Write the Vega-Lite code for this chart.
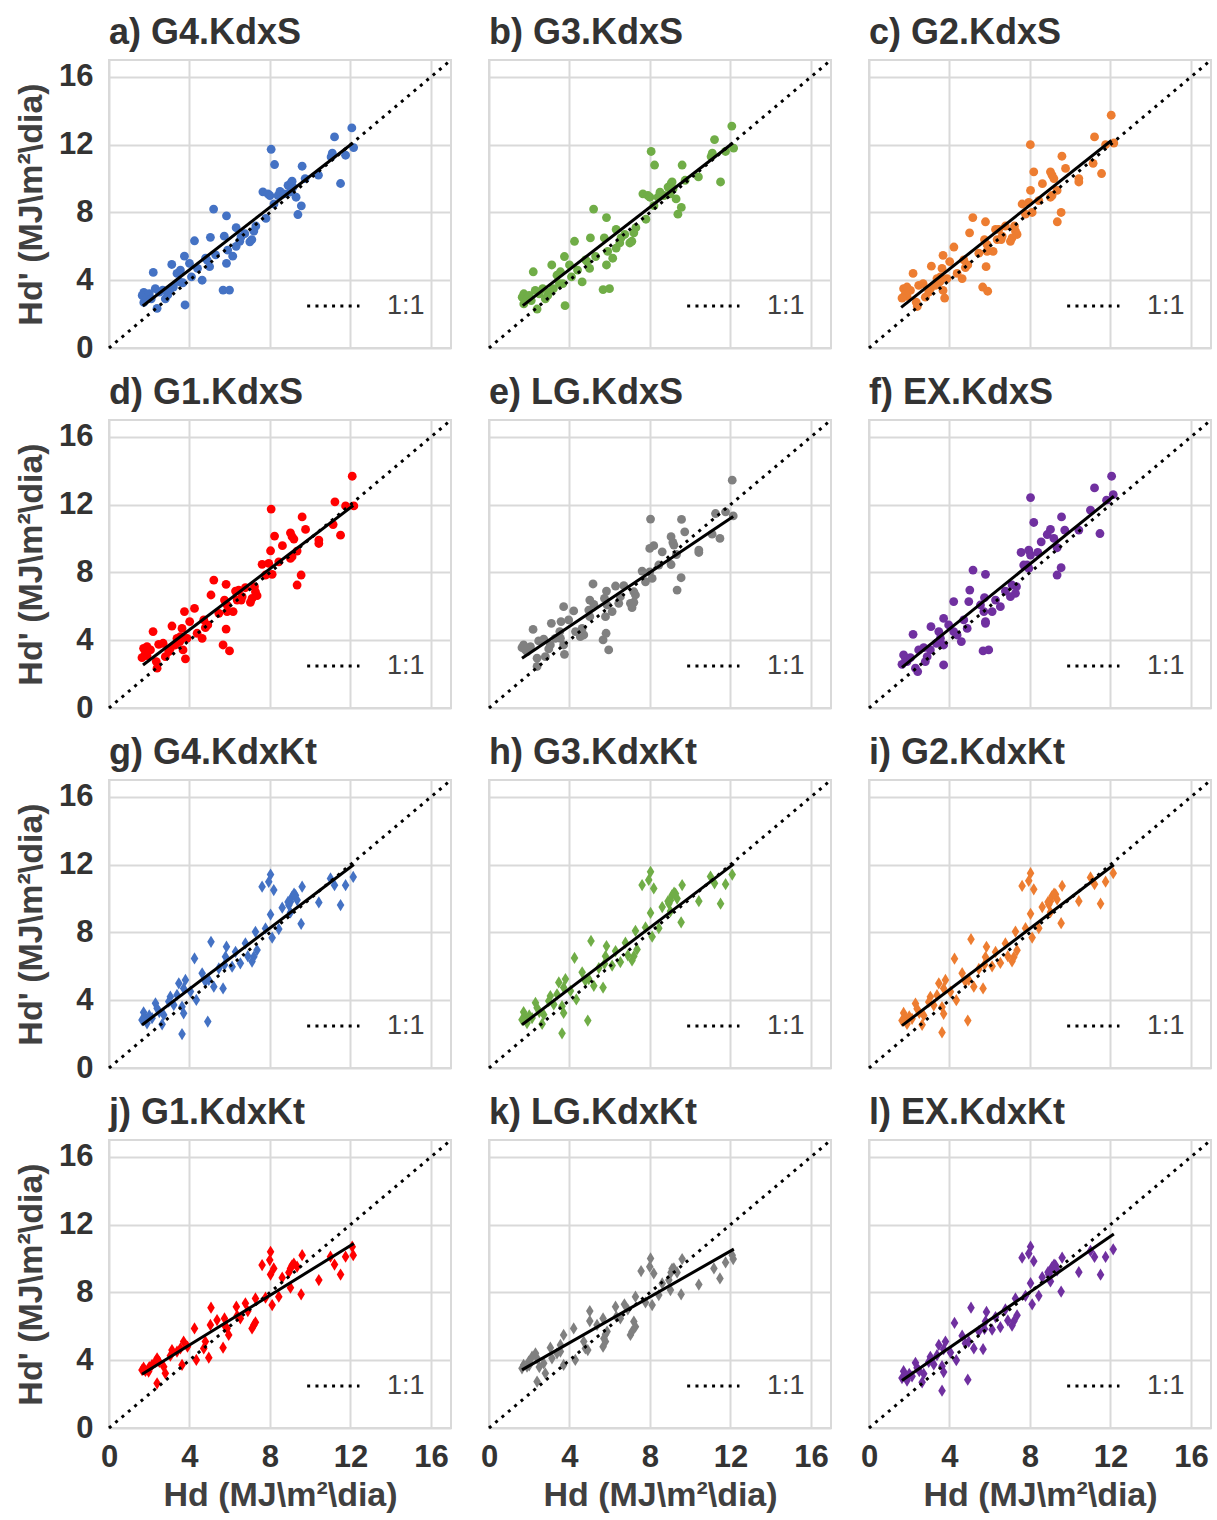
{
"$schema": "https://vega.github.io/schema/vega-lite/v6.json",
"background": "white",
"padding": {"left": 14, "top": 14, "right": 5, "bottom": 5},
"config": {"font": "Liberation Sans", "view": {"stroke": "#d9d9d9", "strokeWidth": 2}},
"data": {"values": [
{"k":"one","p":"a","x":0,"y":0},{"k":"one","p":"a","x":17,"y":17},
{"k":"one","p":"b","x":0,"y":0},{"k":"one","p":"b","x":17,"y":17},
{"k":"one","p":"c","x":0,"y":0},{"k":"one","p":"c","x":17,"y":17},
{"k":"one","p":"d","x":0,"y":0},{"k":"one","p":"d","x":17,"y":17},
{"k":"one","p":"e","x":0,"y":0},{"k":"one","p":"e","x":17,"y":17},
{"k":"one","p":"f","x":0,"y":0},{"k":"one","p":"f","x":17,"y":17},
{"k":"one","p":"g","x":0,"y":0},{"k":"one","p":"g","x":17,"y":17},
{"k":"one","p":"h","x":0,"y":0},{"k":"one","p":"h","x":17,"y":17},
{"k":"one","p":"i","x":0,"y":0},{"k":"one","p":"i","x":17,"y":17},
{"k":"one","p":"j","x":0,"y":0},{"k":"one","p":"j","x":17,"y":17},
{"k":"one","p":"k","x":0,"y":0},{"k":"one","p":"k","x":17,"y":17},
{"k":"one","p":"l","x":0,"y":0},{"k":"one","p":"l","x":17,"y":17},
{"k":"fit","p":"a","x":1.68,"y":2.48},{"k":"fit","p":"a","x":12.12,"y":12.1},
{"k":"fit","p":"b","x":1.68,"y":2.5},{"k":"fit","p":"b","x":12.12,"y":12.1},
{"k":"fit","p":"c","x":1.6,"y":2.4},{"k":"fit","p":"c","x":12.05,"y":12.25},
{"k":"fit","p":"d","x":1.69,"y":2.54},{"k":"fit","p":"d","x":12.14,"y":11.95},
{"k":"fit","p":"e","x":1.64,"y":2.94},{"k":"fit","p":"e","x":12.14,"y":11.3},
{"k":"fit","p":"f","x":1.64,"y":2.4},{"k":"fit","p":"f","x":12.17,"y":12.5},
{"k":"fit","p":"g","x":1.64,"y":2.54},{"k":"fit","p":"g","x":12.17,"y":12.01},
{"k":"fit","p":"h","x":1.64,"y":2.55},{"k":"fit","p":"h","x":12.17,"y":12.05},
{"k":"fit","p":"i","x":1.64,"y":2.5},{"k":"fit","p":"i","x":12.17,"y":12.0},
{"k":"fit","p":"j","x":1.64,"y":3.17},{"k":"fit","p":"j","x":12.17,"y":10.89},
{"k":"fit","p":"k","x":1.64,"y":3.43},{"k":"fit","p":"k","x":12.17,"y":10.56},
{"k":"fit","p":"l","x":1.64,"y":2.8},{"k":"fit","p":"l","x":12.17,"y":11.45},
{"k":"leg","p":"a","x":9.85,"y":2.48},{"k":"leg","p":"a","x":12.45,"y":2.48},
{"k":"leg","p":"b","x":9.85,"y":2.48},{"k":"leg","p":"b","x":12.45,"y":2.48},
{"k":"leg","p":"c","x":9.85,"y":2.48},{"k":"leg","p":"c","x":12.45,"y":2.48},
{"k":"leg","p":"d","x":9.85,"y":2.48},{"k":"leg","p":"d","x":12.45,"y":2.48},
{"k":"leg","p":"e","x":9.85,"y":2.48},{"k":"leg","p":"e","x":12.45,"y":2.48},
{"k":"leg","p":"f","x":9.85,"y":2.48},{"k":"leg","p":"f","x":12.45,"y":2.48},
{"k":"leg","p":"g","x":9.85,"y":2.48},{"k":"leg","p":"g","x":12.45,"y":2.48},
{"k":"leg","p":"h","x":9.85,"y":2.48},{"k":"leg","p":"h","x":12.45,"y":2.48},
{"k":"leg","p":"i","x":9.85,"y":2.48},{"k":"leg","p":"i","x":12.45,"y":2.48},
{"k":"leg","p":"j","x":9.85,"y":2.48},{"k":"leg","p":"j","x":12.45,"y":2.48},
{"k":"leg","p":"k","x":9.85,"y":2.48},{"k":"leg","p":"k","x":12.45,"y":2.48},
{"k":"leg","p":"l","x":9.85,"y":2.48},{"k":"leg","p":"l","x":12.45,"y":2.48},
{"k":"lbl","p":"a","x":14.75,"y":2.45},{"k":"lbl","p":"b","x":14.75,"y":2.45},{"k":"lbl","p":"c","x":14.75,"y":2.45},
{"k":"lbl","p":"d","x":14.75,"y":2.45},{"k":"lbl","p":"e","x":14.75,"y":2.45},{"k":"lbl","p":"f","x":14.75,"y":2.45},
{"k":"lbl","p":"g","x":14.75,"y":2.45},{"k":"lbl","p":"h","x":14.75,"y":2.45},{"k":"lbl","p":"i","x":14.75,"y":2.45},
{"k":"lbl","p":"j","x":14.75,"y":2.45},{"k":"lbl","p":"k","x":14.75,"y":2.45},{"k":"lbl","p":"l","x":14.75,"y":2.45},

{"p":"a","x":1.73,"y":3.28},{"p":"a","x":1.73,"y":2.69},{"p":"a","x":1.65,"y":3.1},{"p":"a","x":1.9,"y":3.0},{"p":"a","x":2.0,"y":3.2},{"p":"a","x":2.1,"y":2.9},{"p":"a","x":2.2,"y":4.46},{"p":"a","x":2.3,"y":3.5},{"p":"a","x":2.39,"y":2.34},{"p":"a","x":2.5,"y":3.3},{"p":"a","x":2.67,"y":3.42},{"p":"a","x":2.8,"y":2.9},{"p":"a","x":2.92,"y":3.13},{"p":"a","x":3.0,"y":3.4},{"p":"a","x":3.12,"y":4.93},{"p":"a","x":3.2,"y":3.6},{"p":"a","x":3.38,"y":4.4},{"p":"a","x":3.5,"y":3.9},{"p":"a","x":3.55,"y":4.6},{"p":"a","x":3.67,"y":3.85},{"p":"a","x":3.75,"y":5.42},{"p":"a","x":3.78,"y":2.54},{"p":"a","x":4.0,"y":5.0},{"p":"a","x":4.1,"y":4.2},{"p":"a","x":4.25,"y":6.33},{"p":"a","x":4.4,"y":4.7},{"p":"a","x":4.63,"y":4.0},{"p":"a","x":4.8,"y":5.3},{"p":"a","x":4.88,"y":5.19},{"p":"a","x":5.0,"y":4.8},{"p":"a","x":5.04,"y":6.53},{"p":"a","x":5.2,"y":8.2},{"p":"a","x":5.3,"y":5.5},{"p":"a","x":5.67,"y":3.42},{"p":"a","x":5.99,"y":3.42},{"p":"a","x":5.73,"y":6.6},{"p":"a","x":5.84,"y":7.8},{"p":"a","x":5.84,"y":5.0},{"p":"a","x":5.9,"y":5.78},{"p":"a","x":6.15,"y":5.42},{"p":"a","x":6.32,"y":7.1},{"p":"a","x":6.32,"y":6.0},{"p":"a","x":6.5,"y":6.3},{"p":"a","x":6.56,"y":6.55},{"p":"a","x":6.75,"y":6.75},{"p":"a","x":7.0,"y":6.27},{"p":"a","x":7.1,"y":6.4},{"p":"a","x":7.2,"y":6.9},{"p":"a","x":7.3,"y":7.2},{"p":"a","x":7.65,"y":9.22},{"p":"a","x":7.8,"y":7.65},{"p":"a","x":7.9,"y":9.1},{"p":"a","x":8.0,"y":9.0},{"p":"a","x":8.06,"y":11.73},{"p":"a","x":8.23,"y":10.83},{"p":"a","x":8.2,"y":8.5},{"p":"a","x":8.4,"y":9.0},{"p":"a","x":8.5,"y":9.25},{"p":"a","x":8.7,"y":9.1},{"p":"a","x":8.9,"y":9.6},{"p":"a","x":9.0,"y":9.2},{"p":"a","x":9.05,"y":9.75},{"p":"a","x":9.1,"y":9.85},{"p":"a","x":9.15,"y":9.5},{"p":"a","x":9.3,"y":8.9},{"p":"a","x":9.39,"y":7.88},{"p":"a","x":9.56,"y":8.39},{"p":"a","x":9.6,"y":10.73},{"p":"a","x":9.75,"y":10.0},{"p":"a","x":10.41,"y":10.2},{"p":"a","x":11.04,"y":11.28},{"p":"a","x":11.1,"y":11.5},{"p":"a","x":11.21,"y":12.46},{"p":"a","x":11.51,"y":9.71},{"p":"a","x":11.76,"y":11.38},{"p":"a","x":12.07,"y":12.99},{"p":"a","x":12.16,"y":11.83},

{"p":"b","x":1.73,"y":3.2},{"p":"b","x":1.73,"y":2.6},{"p":"b","x":1.65,"y":3.0},{"p":"b","x":1.9,"y":2.9},{"p":"b","x":2.0,"y":3.1},{"p":"b","x":2.1,"y":2.8},{"p":"b","x":2.2,"y":4.5},{"p":"b","x":2.3,"y":3.4},{"p":"b","x":2.39,"y":2.3},{"p":"b","x":2.5,"y":3.2},{"p":"b","x":2.67,"y":3.5},{"p":"b","x":2.8,"y":2.9},{"p":"b","x":2.92,"y":3.1},{"p":"b","x":3.0,"y":3.3},{"p":"b","x":3.12,"y":4.9},{"p":"b","x":3.2,"y":3.5},{"p":"b","x":3.38,"y":4.3},{"p":"b","x":3.5,"y":3.8},{"p":"b","x":3.55,"y":4.5},{"p":"b","x":3.67,"y":3.8},{"p":"b","x":3.75,"y":5.4},{"p":"b","x":3.78,"y":2.5},{"p":"b","x":4.0,"y":4.9},{"p":"b","x":4.1,"y":4.2},{"p":"b","x":4.25,"y":6.3},{"p":"b","x":4.4,"y":4.6},{"p":"b","x":4.63,"y":3.9},{"p":"b","x":4.8,"y":5.2},{"p":"b","x":4.88,"y":5.1},{"p":"b","x":5.0,"y":4.7},{"p":"b","x":5.04,"y":6.5},{"p":"b","x":5.2,"y":8.2},{"p":"b","x":5.3,"y":5.4},{"p":"b","x":5.67,"y":3.45},{"p":"b","x":5.99,"y":3.5},{"p":"b","x":5.73,"y":6.5},{"p":"b","x":5.84,"y":7.7},{"p":"b","x":5.84,"y":4.9},{"p":"b","x":5.9,"y":5.7},{"p":"b","x":6.15,"y":5.3},{"p":"b","x":6.32,"y":7.0},{"p":"b","x":6.32,"y":5.9},{"p":"b","x":6.5,"y":6.2},{"p":"b","x":6.56,"y":6.5},{"p":"b","x":6.75,"y":6.7},{"p":"b","x":7.0,"y":6.2},{"p":"b","x":7.1,"y":6.3},{"p":"b","x":7.2,"y":6.8},{"p":"b","x":7.3,"y":7.1},{"p":"b","x":7.65,"y":9.1},{"p":"b","x":7.8,"y":7.6},{"p":"b","x":7.9,"y":9.0},{"p":"b","x":8.0,"y":8.9},{"p":"b","x":8.06,"y":11.6},{"p":"b","x":8.23,"y":10.8},{"p":"b","x":8.2,"y":8.4},{"p":"b","x":8.4,"y":8.9},{"p":"b","x":8.5,"y":9.2},{"p":"b","x":8.7,"y":9.0},{"p":"b","x":8.9,"y":9.5},{"p":"b","x":9.0,"y":9.1},{"p":"b","x":9.05,"y":9.7},{"p":"b","x":9.1,"y":9.8},{"p":"b","x":9.15,"y":9.4},{"p":"b","x":9.3,"y":8.8},{"p":"b","x":9.39,"y":7.9},{"p":"b","x":9.56,"y":8.3},{"p":"b","x":9.6,"y":10.8},{"p":"b","x":9.75,"y":9.9},{"p":"b","x":10.41,"y":10.1},{"p":"b","x":11.04,"y":11.3},{"p":"b","x":11.1,"y":11.5},{"p":"b","x":11.21,"y":12.3},{"p":"b","x":11.51,"y":9.8},{"p":"b","x":11.76,"y":11.6},{"p":"b","x":12.07,"y":13.1},{"p":"b","x":12.16,"y":11.8},

{"p":"c","x":12.04,"y":13.74},{"p":"c","x":11.21,"y":12.46},{"p":"c","x":11.76,"y":12.0},{"p":"c","x":12.17,"y":12.1},{"p":"c","x":8.02,"y":12.0},{"p":"c","x":9.59,"y":11.32},{"p":"c","x":9.77,"y":10.6},{"p":"c","x":11.14,"y":10.9},{"p":"c","x":11.56,"y":10.3},{"p":"c","x":10.43,"y":10.0},{"p":"c","x":10.43,"y":9.8},{"p":"c","x":8.19,"y":10.4},{"p":"c","x":9.02,"y":10.4},{"p":"c","x":9.1,"y":10.2},{"p":"c","x":9.19,"y":10.0},{"p":"c","x":8.62,"y":9.7},{"p":"c","x":8.03,"y":9.3},{"p":"c","x":9.35,"y":9.3},{"p":"c","x":9.1,"y":9.0},{"p":"c","x":9.02,"y":8.9},{"p":"c","x":7.61,"y":8.5},{"p":"c","x":7.94,"y":8.6},{"p":"c","x":8.44,"y":8.7},{"p":"c","x":7.78,"y":7.9},{"p":"c","x":8.11,"y":8.0},{"p":"c","x":9.55,"y":8.0},{"p":"c","x":9.36,"y":7.45},{"p":"c","x":5.16,"y":7.7},{"p":"c","x":5.79,"y":7.45},{"p":"c","x":5.0,"y":6.8},{"p":"c","x":6.29,"y":7.0},{"p":"c","x":6.78,"y":7.2},{"p":"c","x":7.23,"y":7.2},{"p":"c","x":7.28,"y":6.9},{"p":"c","x":7.36,"y":6.7},{"p":"c","x":7.11,"y":6.5},{"p":"c","x":7.03,"y":6.3},{"p":"c","x":6.57,"y":6.4},{"p":"c","x":6.37,"y":6.4},{"p":"c","x":5.74,"y":6.4},{"p":"c","x":5.87,"y":6.1},{"p":"c","x":6.17,"y":5.7},{"p":"c","x":5.87,"y":5.7},{"p":"c","x":4.22,"y":5.96},{"p":"c","x":3.68,"y":5.47},{"p":"c","x":4.01,"y":5.1},{"p":"c","x":4.91,"y":4.9},{"p":"c","x":4.79,"y":4.75},{"p":"c","x":4.63,"y":4.1},{"p":"c","x":4.38,"y":4.4},{"p":"c","x":3.63,"y":4.7},{"p":"c","x":3.1,"y":4.83},{"p":"c","x":3.55,"y":4.2},{"p":"c","x":3.52,"y":3.9},{"p":"c","x":5.82,"y":4.8},{"p":"c","x":5.65,"y":3.6},{"p":"c","x":5.9,"y":3.35},{"p":"c","x":3.68,"y":3.4},{"p":"c","x":3.76,"y":2.95},{"p":"c","x":2.19,"y":4.4},{"p":"c","x":2.47,"y":3.7},{"p":"c","x":2.69,"y":3.8},{"p":"c","x":3.05,"y":3.5},{"p":"c","x":2.97,"y":3.3},{"p":"c","x":2.8,"y":3.0},{"p":"c","x":2.35,"y":2.7},{"p":"c","x":2.4,"y":2.45},{"p":"c","x":1.72,"y":3.5},{"p":"c","x":1.81,"y":3.2},{"p":"c","x":1.89,"y":3.05},{"p":"c","x":1.64,"y":2.95},{"p":"c","x":2.06,"y":3.4},{"p":"c","x":3.3,"y":3.7},{"p":"c","x":3.38,"y":4.1},{"p":"c","x":5.46,"y":5.6},{"p":"c","x":6.45,"y":7.0},{"p":"c","x":6.62,"y":6.6},{"p":"c","x":4.71,"y":5.2},{"p":"c","x":3.88,"y":4.1},{"p":"c","x":1.89,"y":3.6},

{"p":"d","x":12.09,"y":13.68},{"p":"d","x":11.23,"y":12.17},{"p":"d","x":11.76,"y":11.93},{"p":"d","x":12.17,"y":11.93},{"p":"d","x":8.06,"y":11.74},{"p":"d","x":9.6,"y":11.28},{"p":"d","x":9.77,"y":10.54},{"p":"d","x":11.14,"y":10.83},{"p":"d","x":11.51,"y":10.2},{"p":"d","x":10.43,"y":9.91},{"p":"d","x":10.43,"y":9.71},{"p":"d","x":8.23,"y":10.15},{"p":"d","x":9.02,"y":10.34},{"p":"d","x":9.1,"y":10.11},{"p":"d","x":9.19,"y":9.97},{"p":"d","x":8.62,"y":9.58},{"p":"d","x":8.03,"y":9.28},{"p":"d","x":9.35,"y":9.26},{"p":"d","x":9.1,"y":8.93},{"p":"d","x":9.02,"y":8.83},{"p":"d","x":7.61,"y":8.48},{"p":"d","x":7.94,"y":8.54},{"p":"d","x":8.44,"y":8.63},{"p":"d","x":7.78,"y":7.85},{"p":"d","x":8.11,"y":7.89},{"p":"d","x":9.55,"y":7.85},{"p":"d","x":9.35,"y":7.26},{"p":"d","x":5.21,"y":7.55},{"p":"d","x":5.82,"y":7.3},{"p":"d","x":5.07,"y":6.67},{"p":"d","x":6.29,"y":6.9},{"p":"d","x":6.78,"y":7.1},{"p":"d","x":7.23,"y":7.16},{"p":"d","x":7.28,"y":6.86},{"p":"d","x":7.36,"y":6.63},{"p":"d","x":7.11,"y":6.47},{"p":"d","x":7.03,"y":6.24},{"p":"d","x":6.57,"y":6.37},{"p":"d","x":6.37,"y":6.37},{"p":"d","x":5.74,"y":6.37},{"p":"d","x":5.87,"y":6.08},{"p":"d","x":6.17,"y":5.69},{"p":"d","x":5.87,"y":5.69},{"p":"d","x":4.25,"y":5.88},{"p":"d","x":3.75,"y":5.69},{"p":"d","x":4.01,"y":5.1},{"p":"d","x":4.91,"y":4.9},{"p":"d","x":4.79,"y":4.74},{"p":"d","x":4.63,"y":4.11},{"p":"d","x":4.38,"y":4.41},{"p":"d","x":3.63,"y":4.7},{"p":"d","x":3.13,"y":4.84},{"p":"d","x":3.55,"y":4.21},{"p":"d","x":3.52,"y":3.92},{"p":"d","x":5.82,"y":4.66},{"p":"d","x":5.67,"y":3.72},{"p":"d","x":5.99,"y":3.37},{"p":"d","x":3.68,"y":3.43},{"p":"d","x":3.8,"y":2.9},{"p":"d","x":2.19,"y":4.51},{"p":"d","x":2.47,"y":3.76},{"p":"d","x":2.69,"y":3.82},{"p":"d","x":3.05,"y":3.52},{"p":"d","x":2.97,"y":3.33},{"p":"d","x":2.8,"y":3.03},{"p":"d","x":2.35,"y":2.74},{"p":"d","x":2.39,"y":2.35},{"p":"d","x":1.72,"y":3.52},{"p":"d","x":1.81,"y":3.23},{"p":"d","x":1.89,"y":3.09},{"p":"d","x":1.64,"y":2.97},{"p":"d","x":2.06,"y":3.43},{"p":"d","x":3.3,"y":3.72},{"p":"d","x":3.38,"y":4.11},{"p":"d","x":5.46,"y":5.59},{"p":"d","x":6.45,"y":6.96},{"p":"d","x":6.62,"y":6.57},{"p":"d","x":4.71,"y":5.2},{"p":"d","x":3.88,"y":4.11},{"p":"d","x":1.89,"y":3.62},

{"p":"e","x":12.09,"y":13.45},{"p":"e","x":11.26,"y":11.48},{"p":"e","x":11.76,"y":11.58},{"p":"e","x":12.14,"y":11.34},{"p":"e","x":8.03,"y":11.15},{"p":"e","x":9.57,"y":11.13},{"p":"e","x":9.73,"y":10.4},{"p":"e","x":11.09,"y":10.26},{"p":"e","x":11.48,"y":10.01},{"p":"e","x":10.43,"y":9.32},{"p":"e","x":10.43,"y":9.18},{"p":"e","x":8.19,"y":9.58},{"p":"e","x":9.05,"y":10.11},{"p":"e","x":9.14,"y":9.77},{"p":"e","x":9.19,"y":9.62},{"p":"e","x":8.61,"y":9.22},{"p":"e","x":7.99,"y":9.42},{"p":"e","x":9.32,"y":9.06},{"p":"e","x":9.05,"y":8.47},{"p":"e","x":7.61,"y":8.08},{"p":"e","x":7.99,"y":8.04},{"p":"e","x":8.44,"y":8.44},{"p":"e","x":7.78,"y":7.45},{"p":"e","x":8.11,"y":7.65},{"p":"e","x":9.55,"y":7.69},{"p":"e","x":9.35,"y":6.96},{"p":"e","x":5.17,"y":7.32},{"p":"e","x":5.84,"y":6.9},{"p":"e","x":5.01,"y":6.37},{"p":"e","x":6.29,"y":7.2},{"p":"e","x":6.7,"y":7.22},{"p":"e","x":7.2,"y":6.86},{"p":"e","x":7.28,"y":6.67},{"p":"e","x":7.03,"y":6.18},{"p":"e","x":7.11,"y":5.92},{"p":"e","x":6.45,"y":6.18},{"p":"e","x":5.74,"y":6.47},{"p":"e","x":5.87,"y":6.08},{"p":"e","x":6.12,"y":5.69},{"p":"e","x":5.79,"y":5.39},{"p":"e","x":4.21,"y":5.73},{"p":"e","x":3.71,"y":5.98},{"p":"e","x":3.96,"y":5.2},{"p":"e","x":4.96,"y":5.78},{"p":"e","x":4.63,"y":4.7},{"p":"e","x":4.71,"y":4.31},{"p":"e","x":3.1,"y":5.0},{"p":"e","x":3.58,"y":5.1},{"p":"e","x":3.52,"y":4.51},{"p":"e","x":3.55,"y":4.11},{"p":"e","x":5.82,"y":4.41},{"p":"e","x":5.67,"y":4.02},{"p":"e","x":5.95,"y":3.43},{"p":"e","x":3.75,"y":3.17},{"p":"e","x":2.19,"y":4.64},{"p":"e","x":2.47,"y":3.96},{"p":"e","x":2.72,"y":4.07},{"p":"e","x":3.05,"y":3.72},{"p":"e","x":2.97,"y":3.49},{"p":"e","x":2.8,"y":3.03},{"p":"e","x":2.39,"y":2.94},{"p":"e","x":2.39,"y":2.45},{"p":"e","x":1.72,"y":3.72},{"p":"e","x":1.81,"y":3.43},{"p":"e","x":1.89,"y":3.33},{"p":"e","x":1.64,"y":3.56},{"p":"e","x":2.06,"y":3.62},{"p":"e","x":3.3,"y":4.11},{"p":"e","x":4.3,"y":4.51},{"p":"e","x":4.54,"y":4.21},{"p":"e","x":5.01,"y":5.39},{"p":"e","x":3.71,"y":3.72},{"p":"e","x":7.2,"y":6.24},{"p":"e","x":6.53,"y":6.57},{"p":"e","x":5.21,"y":6.12},

{"p":"f","x":12.06,"y":13.68},{"p":"f","x":11.21,"y":12.99},{"p":"f","x":11.81,"y":12.27},{"p":"f","x":12.14,"y":12.6},{"p":"f","x":8.03,"y":12.42},{"p":"f","x":8.19,"y":10.95},{"p":"f","x":9.57,"y":11.28},{"p":"f","x":9.73,"y":10.5},{"p":"f","x":11.01,"y":11.68},{"p":"f","x":11.48,"y":10.3},{"p":"f","x":10.43,"y":10.5},{"p":"f","x":9.02,"y":10.54},{"p":"f","x":8.86,"y":10.24},{"p":"f","x":9.19,"y":10.01},{"p":"f","x":8.56,"y":9.81},{"p":"f","x":7.56,"y":9.18},{"p":"f","x":7.94,"y":9.32},{"p":"f","x":8.03,"y":9.03},{"p":"f","x":8.39,"y":9.18},{"p":"f","x":9.35,"y":9.46},{"p":"f","x":7.86,"y":8.44},{"p":"f","x":9.55,"y":8.28},{"p":"f","x":9.35,"y":7.85},{"p":"f","x":5.17,"y":8.14},{"p":"f","x":5.79,"y":7.89},{"p":"f","x":5.01,"y":6.96},{"p":"f","x":4.21,"y":6.28},{"p":"f","x":5.74,"y":6.51},{"p":"f","x":6.29,"y":6.37},{"p":"f","x":6.53,"y":5.98},{"p":"f","x":6.78,"y":6.9},{"p":"f","x":7.03,"y":6.57},{"p":"f","x":7.28,"y":6.77},{"p":"f","x":7.11,"y":7.26},{"p":"f","x":7.33,"y":7.16},{"p":"f","x":6.12,"y":5.69},{"p":"f","x":5.71,"y":5.69},{"p":"f","x":5.79,"y":5.1},{"p":"f","x":3.71,"y":5.29},{"p":"f","x":3.96,"y":4.9},{"p":"f","x":4.88,"y":4.7},{"p":"f","x":4.71,"y":5.2},{"p":"f","x":4.59,"y":3.92},{"p":"f","x":3.08,"y":4.8},{"p":"f","x":3.47,"y":4.51},{"p":"f","x":3.55,"y":4.11},{"p":"f","x":3.71,"y":3.72},{"p":"f","x":5.79,"y":5.0},{"p":"f","x":5.67,"y":3.37},{"p":"f","x":5.95,"y":3.43},{"p":"f","x":3.71,"y":2.54},{"p":"f","x":2.19,"y":4.35},{"p":"f","x":2.47,"y":3.43},{"p":"f","x":2.72,"y":3.56},{"p":"f","x":3.05,"y":3.43},{"p":"f","x":2.89,"y":3.03},{"p":"f","x":2.8,"y":2.74},{"p":"f","x":2.31,"y":2.35},{"p":"f","x":2.42,"y":2.15},{"p":"f","x":1.72,"y":3.13},{"p":"f","x":1.81,"y":2.94},{"p":"f","x":1.89,"y":2.74},{"p":"f","x":1.64,"y":2.58},{"p":"f","x":2.06,"y":2.97},{"p":"f","x":3.35,"y":3.82},{"p":"f","x":4.21,"y":4.51},{"p":"f","x":4.38,"y":4.31},{"p":"f","x":4.96,"y":6.28},{"p":"f","x":5.54,"y":6.08},{"p":"f","x":7.94,"y":8.24},{"p":"f","x":7.69,"y":8.44},

{"p":"g","x":12.14,"y":11.28},{"p":"g","x":11.76,"y":10.79},{"p":"g","x":11.21,"y":10.79},{"p":"g","x":11.01,"y":11.19},{"p":"g","x":11.51,"y":9.62},{"p":"g","x":10.43,"y":9.77},{"p":"g","x":8.03,"y":11.42},{"p":"g","x":7.94,"y":10.99},{"p":"g","x":7.61,"y":10.7},{"p":"g","x":8.19,"y":10.5},{"p":"g","x":9.6,"y":10.7},{"p":"g","x":9.1,"y":10.11},{"p":"g","x":9.27,"y":10.2},{"p":"g","x":9.02,"y":9.81},{"p":"g","x":9.35,"y":9.91},{"p":"g","x":8.94,"y":9.62},{"p":"g","x":8.61,"y":9.46},{"p":"g","x":9.02,"y":9.18},{"p":"g","x":8.03,"y":9.06},{"p":"g","x":9.55,"y":8.51},{"p":"g","x":7.78,"y":8.24},{"p":"g","x":8.44,"y":8.2},{"p":"g","x":8.11,"y":7.69},{"p":"g","x":7.28,"y":8.04},{"p":"g","x":7.36,"y":6.96},{"p":"g","x":7.2,"y":6.57},{"p":"g","x":7.11,"y":6.28},{"p":"g","x":6.78,"y":7.36},{"p":"g","x":6.53,"y":6.18},{"p":"g","x":6.29,"y":6.86},{"p":"g","x":6.12,"y":5.98},{"p":"g","x":5.84,"y":7.16},{"p":"g","x":5.79,"y":6.57},{"p":"g","x":5.74,"y":6.08},{"p":"g","x":5.07,"y":7.45},{"p":"g","x":4.25,"y":6.47},{"p":"g","x":4.63,"y":5.59},{"p":"g","x":4.96,"y":5.2},{"p":"g","x":5.21,"y":4.8},{"p":"g","x":5.67,"y":4.7},{"p":"g","x":3.8,"y":5.2},{"p":"g","x":3.47,"y":5.0},{"p":"g","x":3.71,"y":4.7},{"p":"g","x":4.05,"y":4.51},{"p":"g","x":4.34,"y":4.02},{"p":"g","x":3.05,"y":4.21},{"p":"g","x":2.97,"y":3.92},{"p":"g","x":3.63,"y":3.62},{"p":"g","x":3.71,"y":3.23},{"p":"g","x":4.91,"y":2.74},{"p":"g","x":3.63,"y":2.0},{"p":"g","x":2.31,"y":3.82},{"p":"g","x":2.39,"y":3.52},{"p":"g","x":2.72,"y":3.13},{"p":"g","x":2.64,"y":2.58},{"p":"g","x":1.72,"y":3.29},{"p":"g","x":1.81,"y":2.97},{"p":"g","x":1.64,"y":2.84},{"p":"g","x":1.89,"y":2.64},{"p":"g","x":2.14,"y":2.94},{"p":"g","x":3.22,"y":3.72},{"p":"g","x":3.38,"y":4.31},{"p":"g","x":4.79,"y":5.1},{"p":"g","x":5.46,"y":5.88},{"p":"g","x":2.0,"y":3.1},{"p":"g","x":2.5,"y":3.3},{"p":"g","x":6.9,"y":6.6},{"p":"g","x":8.9,"y":9.8},{"p":"g","x":9.2,"y":10.3},

{"p":"h","x":12.09,"y":11.42},{"p":"h","x":11.76,"y":10.85},{"p":"h","x":11.21,"y":10.9},{"p":"h","x":11.01,"y":11.3},{"p":"h","x":11.51,"y":9.7},{"p":"h","x":10.43,"y":9.85},{"p":"h","x":8.03,"y":11.58},{"p":"h","x":7.94,"y":11.1},{"p":"h","x":7.61,"y":10.8},{"p":"h","x":8.19,"y":10.6},{"p":"h","x":9.6,"y":10.8},{"p":"h","x":9.1,"y":10.2},{"p":"h","x":9.27,"y":10.3},{"p":"h","x":9.02,"y":9.9},{"p":"h","x":9.35,"y":10.0},{"p":"h","x":8.94,"y":9.7},{"p":"h","x":8.61,"y":9.5},{"p":"h","x":9.02,"y":9.25},{"p":"h","x":8.03,"y":9.15},{"p":"h","x":9.55,"y":8.6},{"p":"h","x":7.78,"y":8.3},{"p":"h","x":8.44,"y":8.25},{"p":"h","x":8.11,"y":7.75},{"p":"h","x":7.28,"y":8.1},{"p":"h","x":7.36,"y":7.0},{"p":"h","x":7.2,"y":6.6},{"p":"h","x":7.11,"y":6.35},{"p":"h","x":6.78,"y":7.4},{"p":"h","x":6.53,"y":6.25},{"p":"h","x":6.29,"y":6.9},{"p":"h","x":6.12,"y":6.05},{"p":"h","x":5.84,"y":7.2},{"p":"h","x":5.79,"y":6.6},{"p":"h","x":5.74,"y":6.15},{"p":"h","x":5.07,"y":7.5},{"p":"h","x":4.25,"y":6.5},{"p":"h","x":4.63,"y":5.65},{"p":"h","x":4.96,"y":5.25},{"p":"h","x":5.21,"y":4.85},{"p":"h","x":5.67,"y":4.75},{"p":"h","x":3.8,"y":5.25},{"p":"h","x":3.47,"y":5.05},{"p":"h","x":3.71,"y":4.75},{"p":"h","x":4.05,"y":4.55},{"p":"h","x":4.34,"y":4.05},{"p":"h","x":3.05,"y":4.25},{"p":"h","x":2.97,"y":3.95},{"p":"h","x":3.63,"y":3.65},{"p":"h","x":3.71,"y":3.25},{"p":"h","x":4.91,"y":2.8},{"p":"h","x":3.63,"y":2.05},{"p":"h","x":2.31,"y":3.85},{"p":"h","x":2.39,"y":3.55},{"p":"h","x":2.72,"y":3.15},{"p":"h","x":2.64,"y":2.6},{"p":"h","x":1.72,"y":3.3},{"p":"h","x":1.81,"y":3.0},{"p":"h","x":1.64,"y":2.85},{"p":"h","x":1.89,"y":2.65},{"p":"h","x":2.14,"y":2.95},{"p":"h","x":3.22,"y":3.75},{"p":"h","x":3.38,"y":4.35},{"p":"h","x":4.79,"y":5.15},{"p":"h","x":5.46,"y":5.9},{"p":"h","x":2.0,"y":3.1},{"p":"h","x":2.5,"y":3.3},{"p":"h","x":6.9,"y":6.65},{"p":"h","x":8.9,"y":9.85},{"p":"h","x":9.2,"y":10.35},

{"p":"i","x":12.14,"y":11.5},{"p":"i","x":11.76,"y":11.0},{"p":"i","x":11.21,"y":10.85},{"p":"i","x":11.01,"y":11.25},{"p":"i","x":11.51,"y":9.7},{"p":"i","x":10.43,"y":9.85},{"p":"i","x":8.03,"y":11.5},{"p":"i","x":7.94,"y":11.05},{"p":"i","x":7.61,"y":10.75},{"p":"i","x":8.19,"y":10.55},{"p":"i","x":9.6,"y":10.75},{"p":"i","x":9.1,"y":10.15},{"p":"i","x":9.27,"y":10.25},{"p":"i","x":9.02,"y":9.85},{"p":"i","x":9.35,"y":9.95},{"p":"i","x":8.94,"y":9.65},{"p":"i","x":8.61,"y":9.5},{"p":"i","x":9.02,"y":9.2},{"p":"i","x":8.03,"y":9.1},{"p":"i","x":9.55,"y":8.55},{"p":"i","x":7.78,"y":8.25},{"p":"i","x":8.44,"y":8.25},{"p":"i","x":8.11,"y":7.7},{"p":"i","x":7.28,"y":8.05},{"p":"i","x":7.36,"y":6.95},{"p":"i","x":7.2,"y":6.55},{"p":"i","x":7.11,"y":6.3},{"p":"i","x":6.78,"y":7.35},{"p":"i","x":6.53,"y":6.2},{"p":"i","x":6.29,"y":6.85},{"p":"i","x":6.12,"y":6.0},{"p":"i","x":5.84,"y":7.15},{"p":"i","x":5.79,"y":6.55},{"p":"i","x":5.74,"y":6.1},{"p":"i","x":5.07,"y":7.6},{"p":"i","x":4.25,"y":6.45},{"p":"i","x":4.63,"y":5.6},{"p":"i","x":4.96,"y":5.2},{"p":"i","x":5.21,"y":4.8},{"p":"i","x":5.67,"y":4.7},{"p":"i","x":3.8,"y":5.2},{"p":"i","x":3.47,"y":5.0},{"p":"i","x":3.71,"y":4.7},{"p":"i","x":4.05,"y":4.5},{"p":"i","x":4.34,"y":4.0},{"p":"i","x":3.05,"y":4.2},{"p":"i","x":2.97,"y":3.9},{"p":"i","x":3.63,"y":3.6},{"p":"i","x":3.71,"y":3.2},{"p":"i","x":4.91,"y":2.8},{"p":"i","x":3.63,"y":2.1},{"p":"i","x":2.31,"y":3.8},{"p":"i","x":2.39,"y":3.5},{"p":"i","x":2.72,"y":3.1},{"p":"i","x":2.64,"y":2.55},{"p":"i","x":1.72,"y":3.25},{"p":"i","x":1.81,"y":2.95},{"p":"i","x":1.64,"y":2.8},{"p":"i","x":1.89,"y":2.6},{"p":"i","x":2.14,"y":2.9},{"p":"i","x":3.22,"y":3.7},{"p":"i","x":3.38,"y":4.3},{"p":"i","x":4.79,"y":5.1},{"p":"i","x":5.46,"y":5.85},{"p":"i","x":2.0,"y":3.05},{"p":"i","x":2.5,"y":3.25},{"p":"i","x":6.9,"y":6.6},{"p":"i","x":8.9,"y":9.8},{"p":"i","x":9.2,"y":10.3},

{"p":"j","x":12.14,"y":10.2},{"p":"j","x":12.09,"y":10.7},{"p":"j","x":11.76,"y":10.11},{"p":"j","x":11.51,"y":9.06},{"p":"j","x":11.21,"y":9.65},{"p":"j","x":11.01,"y":10.11},{"p":"j","x":10.43,"y":8.73},{"p":"j","x":8.03,"y":10.4},{"p":"j","x":7.99,"y":9.91},{"p":"j","x":7.61,"y":9.62},{"p":"j","x":8.19,"y":9.42},{"p":"j","x":8.03,"y":9.06},{"p":"j","x":9.6,"y":10.2},{"p":"j","x":9.19,"y":9.71},{"p":"j","x":9.02,"y":9.42},{"p":"j","x":9.35,"y":9.52},{"p":"j","x":8.94,"y":9.18},{"p":"j","x":8.61,"y":8.87},{"p":"j","x":9.02,"y":8.28},{"p":"j","x":9.55,"y":7.89},{"p":"j","x":8.44,"y":7.75},{"p":"j","x":8.11,"y":7.26},{"p":"j","x":7.78,"y":7.69},{"p":"j","x":7.28,"y":7.65},{"p":"j","x":6.78,"y":7.36},{"p":"j","x":6.33,"y":7.16},{"p":"j","x":5.07,"y":7.1},{"p":"j","x":7.28,"y":6.24},{"p":"j","x":7.11,"y":5.88},{"p":"j","x":7.2,"y":6.08},{"p":"j","x":6.53,"y":6.47},{"p":"j","x":6.37,"y":6.63},{"p":"j","x":5.74,"y":6.47},{"p":"j","x":5.87,"y":5.88},{"p":"j","x":5.95,"y":5.49},{"p":"j","x":5.67,"y":4.74},{"p":"j","x":5.04,"y":6.08},{"p":"j","x":4.25,"y":5.88},{"p":"j","x":4.71,"y":4.7},{"p":"j","x":4.96,"y":4.15},{"p":"j","x":3.71,"y":5.1},{"p":"j","x":3.55,"y":4.7},{"p":"j","x":3.13,"y":4.6},{"p":"j","x":3.05,"y":4.27},{"p":"j","x":4.34,"y":4.02},{"p":"j","x":3.63,"y":3.72},{"p":"j","x":2.39,"y":4.11},{"p":"j","x":2.31,"y":3.92},{"p":"j","x":2.14,"y":3.72},{"p":"j","x":2.72,"y":3.62},{"p":"j","x":2.8,"y":3.23},{"p":"j","x":2.39,"y":2.64},{"p":"j","x":1.72,"y":3.56},{"p":"j","x":1.81,"y":3.37},{"p":"j","x":1.64,"y":3.43},{"p":"j","x":1.97,"y":3.33},{"p":"j","x":5.79,"y":5.98},{"p":"j","x":5.37,"y":6.37},{"p":"j","x":3.38,"y":4.51},{"p":"j","x":4.79,"y":5.1},{"p":"j","x":2.0,"y":3.6},{"p":"j","x":2.5,"y":3.9},{"p":"j","x":9.1,"y":9.6},{"p":"j","x":6.9,"y":6.9},{"p":"j","x":3.9,"y":4.8},

{"p":"k","x":12.14,"y":9.97},{"p":"k","x":12.09,"y":10.2},{"p":"k","x":11.76,"y":9.77},{"p":"k","x":11.48,"y":8.83},{"p":"k","x":11.18,"y":9.42},{"p":"k","x":10.43,"y":8.47},{"p":"k","x":8.03,"y":10.01},{"p":"k","x":7.99,"y":9.52},{"p":"k","x":7.56,"y":9.26},{"p":"k","x":8.19,"y":9.12},{"p":"k","x":9.6,"y":9.97},{"p":"k","x":9.19,"y":9.42},{"p":"k","x":9.05,"y":9.18},{"p":"k","x":9.35,"y":9.18},{"p":"k","x":8.94,"y":8.73},{"p":"k","x":8.61,"y":8.53},{"p":"k","x":9.02,"y":8.14},{"p":"k","x":9.55,"y":7.89},{"p":"k","x":8.44,"y":7.85},{"p":"k","x":8.11,"y":7.26},{"p":"k","x":7.78,"y":7.41},{"p":"k","x":7.28,"y":7.75},{"p":"k","x":6.73,"y":7.3},{"p":"k","x":6.29,"y":7.16},{"p":"k","x":5.01,"y":6.9},{"p":"k","x":7.28,"y":5.98},{"p":"k","x":7.11,"y":5.69},{"p":"k","x":6.53,"y":6.47},{"p":"k","x":6.33,"y":6.57},{"p":"k","x":5.67,"y":6.47},{"p":"k","x":5.87,"y":5.69},{"p":"k","x":5.79,"y":5.1},{"p":"k","x":5.67,"y":4.8},{"p":"k","x":5.01,"y":6.31},{"p":"k","x":4.21,"y":5.88},{"p":"k","x":4.79,"y":4.7},{"p":"k","x":4.91,"y":4.6},{"p":"k","x":4.29,"y":4.02},{"p":"k","x":3.71,"y":5.49},{"p":"k","x":3.55,"y":4.9},{"p":"k","x":3.05,"y":4.74},{"p":"k","x":3.13,"y":4.11},{"p":"k","x":3.71,"y":3.72},{"p":"k","x":3.55,"y":4.51},{"p":"k","x":2.31,"y":4.41},{"p":"k","x":2.14,"y":4.21},{"p":"k","x":2.39,"y":4.11},{"p":"k","x":2.72,"y":3.82},{"p":"k","x":2.8,"y":3.23},{"p":"k","x":2.39,"y":2.74},{"p":"k","x":1.72,"y":3.72},{"p":"k","x":1.64,"y":3.52},{"p":"k","x":1.89,"y":3.62},{"p":"k","x":1.97,"y":3.92},{"p":"k","x":5.79,"y":5.53},{"p":"k","x":5.37,"y":6.08},{"p":"k","x":3.38,"y":4.41},{"p":"k","x":4.71,"y":5.1},{"p":"k","x":7.2,"y":6.28},{"p":"k","x":7.03,"y":5.49},{"p":"k","x":5.71,"y":5.29},{"p":"k","x":2.0,"y":3.7},{"p":"k","x":2.5,"y":3.6},{"p":"k","x":9.1,"y":9.4},{"p":"k","x":6.9,"y":7.0},

{"p":"l","x":12.14,"y":10.55},{"p":"l","x":11.76,"y":10.1},{"p":"l","x":11.21,"y":10.1},{"p":"l","x":11.01,"y":10.45},{"p":"l","x":11.51,"y":9.05},{"p":"l","x":10.43,"y":9.2},{"p":"l","x":8.03,"y":10.7},{"p":"l","x":7.94,"y":10.3},{"p":"l","x":7.61,"y":10.05},{"p":"l","x":8.19,"y":9.85},{"p":"l","x":9.6,"y":10.05},{"p":"l","x":9.1,"y":9.5},{"p":"l","x":9.27,"y":9.6},{"p":"l","x":9.02,"y":9.25},{"p":"l","x":9.35,"y":9.3},{"p":"l","x":8.94,"y":9.05},{"p":"l","x":8.61,"y":8.9},{"p":"l","x":9.02,"y":8.65},{"p":"l","x":8.03,"y":8.55},{"p":"l","x":9.55,"y":8.05},{"p":"l","x":7.78,"y":7.8},{"p":"l","x":8.44,"y":7.8},{"p":"l","x":8.11,"y":7.3},{"p":"l","x":7.28,"y":7.65},{"p":"l","x":7.36,"y":6.65},{"p":"l","x":7.2,"y":6.3},{"p":"l","x":7.11,"y":6.05},{"p":"l","x":6.78,"y":7.0},{"p":"l","x":6.53,"y":5.95},{"p":"l","x":6.29,"y":6.55},{"p":"l","x":6.12,"y":5.8},{"p":"l","x":5.84,"y":6.85},{"p":"l","x":5.79,"y":6.3},{"p":"l","x":5.74,"y":5.85},{"p":"l","x":5.07,"y":7.1},{"p":"l","x":4.25,"y":6.2},{"p":"l","x":4.63,"y":5.45},{"p":"l","x":4.96,"y":5.1},{"p":"l","x":5.21,"y":4.7},{"p":"l","x":5.67,"y":4.65},{"p":"l","x":3.8,"y":5.1},{"p":"l","x":3.47,"y":4.9},{"p":"l","x":3.71,"y":4.65},{"p":"l","x":4.05,"y":4.45},{"p":"l","x":4.34,"y":4.0},{"p":"l","x":3.05,"y":4.2},{"p":"l","x":2.97,"y":3.9},{"p":"l","x":3.63,"y":3.65},{"p":"l","x":3.71,"y":3.3},{"p":"l","x":4.91,"y":2.85},{"p":"l","x":3.63,"y":2.2},{"p":"l","x":2.31,"y":3.85},{"p":"l","x":2.39,"y":3.55},{"p":"l","x":2.72,"y":3.2},{"p":"l","x":2.64,"y":2.7},{"p":"l","x":1.72,"y":3.35},{"p":"l","x":1.81,"y":3.05},{"p":"l","x":1.64,"y":2.95},{"p":"l","x":1.89,"y":2.8},{"p":"l","x":2.14,"y":3.05},{"p":"l","x":3.22,"y":3.75},{"p":"l","x":3.38,"y":4.3},{"p":"l","x":4.79,"y":5.0},{"p":"l","x":5.46,"y":5.7},{"p":"l","x":2.0,"y":3.2},{"p":"l","x":2.5,"y":3.35},{"p":"l","x":6.9,"y":6.35},{"p":"l","x":8.9,"y":9.2},{"p":"l","x":9.2,"y":9.65}
]},
"facet": {"field": "p", "type": "nominal", "title": null,
  "header": {"labelExpr": "['a) G4.KdxS','b) G3.KdxS','c) G2.KdxS','d) G1.KdxS','e) LG.KdxS','f) EX.KdxS','g) G4.KdxKt','h) G3.KdxKt','i) G2.KdxKt','j) G1.KdxKt','k) LG.KdxKt','l) EX.KdxKt'][indexof('abcdefghijkl', datum.value)]",
    "labelFontSize": 36, "labelFontWeight": "bold", "labelColor": "#333333", "labelFont": "Liberation Sans",
    "labelAnchor": "start", "labelAlign": "left", "labelPadding": 2}},
"columns": 3,
"spacing": {"column": 24, "row": 19},
"spec": {
  "width": 342, "height": 288,
  "encoding": {
    "x": {"field": "x", "type": "quantitative",
      "scale": {"domain": [0, 17], "nice": false, "zero": false},
      "axis": {"values": [0, 4, 8, 12, 16], "title": "Hd (MJ\\m²\\dia)", "grid": true, "gridColor": "#d9d9d9", "gridWidth": 2,
        "ticks": false, "domain": false, "labelFlush": false, "labelFontSize": 31, "labelFontWeight": "bold", "labelColor": "#333333",
        "labelPadding": 7, "titleFontSize": 34, "titleFontWeight": "bold", "titleColor": "#404040", "titlePadding": 6}},
    "y": {"field": "y", "type": "quantitative",
      "scale": {"domain": [0, 17], "nice": false, "zero": false},
      "axis": {"values": [0, 4, 8, 12, 16], "title": "Hd' (MJ\\m²\\dia)", "grid": true, "gridColor": "#d9d9d9", "gridWidth": 2,
        "ticks": false, "domain": false, "labelFontSize": 31, "labelFontWeight": "bold", "labelColor": "#333333",
        "labelPadding": 9, "titleFontSize": 34, "titleFontWeight": "bold", "titleColor": "#404040", "titlePadding": 10}}
  },
  "layer": [
    {"transform": [{"filter": "!datum.k"}],
     "mark": {"type": "point", "filled": true, "opacity": 1, "strokeWidth": 0},
     "encoding": {
       "color": {"field": "p", "type": "nominal", "legend": null,
         "scale": {"domain": ["a","b","c","d","e","f","g","h","i","j","k","l"],
           "range": ["#4472C4","#70AD47","#ED7D31","#FF0000","#808080","#7030A0","#4472C4","#70AD47","#ED7D31","#FF0000","#808080","#7030A0"]}},
       "shape": {"field": "p", "type": "nominal", "legend": null,
         "scale": {"domain": ["a","b","c","d","e","f","g","h","i","j","k","l"],
           "range": ["circle","circle","circle","circle","circle","circle","M0,-1L0.62,0L0,1L-0.62,0Z","M0,-1L0.62,0L0,1L-0.62,0Z","M0,-1L0.62,0L0,1L-0.62,0Z","M0,-1L0.62,0L0,1L-0.62,0Z","M0,-1L0.62,0L0,1L-0.62,0Z","M0,-1L0.62,0L0,1L-0.62,0Z"]}},
       "size": {"condition": {"test": "indexof('abcdef', datum.p) >= 0", "value": 78}, "value": 150}
     }},
    {"transform": [{"filter": "datum.k=='one'"}],
     "mark": {"type": "line", "color": "black", "strokeWidth": 3, "strokeDash": [3, 5.3], "strokeCap": "butt"}},
    {"transform": [{"filter": "datum.k=='fit'"}],
     "mark": {"type": "line", "color": "black", "strokeWidth": 3}},
    {"transform": [{"filter": "datum.k=='leg'"}],
     "mark": {"type": "line", "color": "black", "strokeWidth": 3, "strokeDash": [3, 5.3], "strokeCap": "butt"}},
    {"transform": [{"filter": "datum.k=='lbl'"}],
     "mark": {"type": "text", "text": "1:1", "fontSize": 27, "color": "#404040", "align": "center", "baseline": "middle"}}
  ]
}
}
